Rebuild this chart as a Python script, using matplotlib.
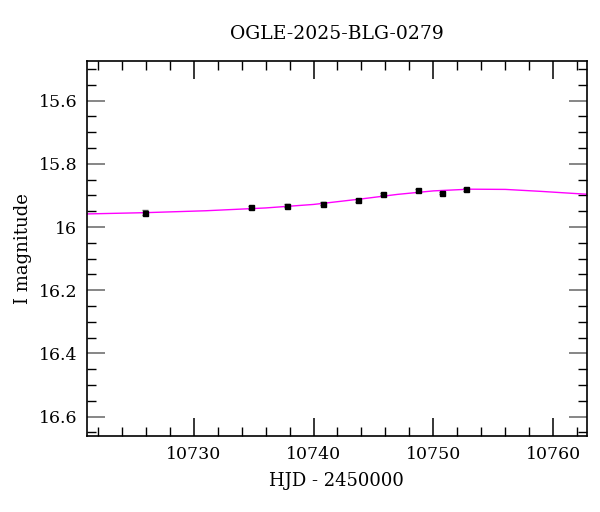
import numpy as np
import matplotlib
matplotlib.use("Agg")
from matplotlib import pyplot as plt
from matplotlib.ticker import MultipleLocator

# photometry
hjd = [10725.9, 10734.8, 10737.8, 10740.8, 10743.7, 10745.8, 10748.75, 10750.75, 10752.75]
mag = [15.955, 15.937, 15.932, 15.926, 15.915, 15.895, 15.884, 15.893, 15.881]
err = [0.008, 0.005, 0.005, 0.005, 0.005, 0.004, 0.004, 0.004, 0.005]

# model curve, sampled by eye
model_hjd = [10721, 10726, 10731, 10736, 10740, 10744, 10747, 10750, 10753, 10756, 10759, 10763]
model_mag = [15.9587, 15.9546, 15.9486, 15.9397, 15.9286, 15.9111, 15.8968, 15.8857,
             15.8803, 15.8810, 15.8873, 15.8968]

plt.rcParams['font.family'] = ['DejaVu Serif']

fig = plt.figure(figsize=(6, 5.12), dpi=100)
ax = fig.add_axes([0.145, 0.1475, 0.833, 0.7325])

ax.plot(model_hjd, model_mag, color="#ff00ff", lw=1.0, zorder=2)
ax.errorbar(hjd, mag, yerr=err, fmt="s", color="black", ms=3.6, ecolor="#555555",
            elinewidth=1.0, capsize=2.5, capthick=1.0, zorder=3)

ax.set_xlim(10721.1, 10762.8)
ax.set_ylim(16.663, 15.476)

ax.xaxis.set_major_locator(MultipleLocator(10))
ax.xaxis.set_minor_locator(MultipleLocator(2))
ax.yaxis.set_major_locator(MultipleLocator(0.2))
ax.yaxis.set_minor_locator(MultipleLocator(0.05))
ax.yaxis.set_major_formatter(plt.FuncFormatter(lambda v, p: ("%.1f" % v).rstrip("0").rstrip(".")))

ax.tick_params(which="both", direction="in", top=True, right=True, labelsize=12.5)
ax.tick_params(which="major", length=13, width=1.1, pad=7)
ax.tick_params(which="minor", length=6.5, width=1.0)
ax.tick_params(axis="y", which="major", color="#666666")
for s in ax.spines.values():
    s.set_linewidth(1.2)

ax.set_xlabel("HJD - 2450000", fontsize=13, labelpad=6)
ax.set_ylabel("I magnitude", fontsize=13, labelpad=5)
ax.set_title("OGLE-2025-BLG-0279", fontsize=13.5, pad=16)

fig.savefig("out.png", dpi=100)
